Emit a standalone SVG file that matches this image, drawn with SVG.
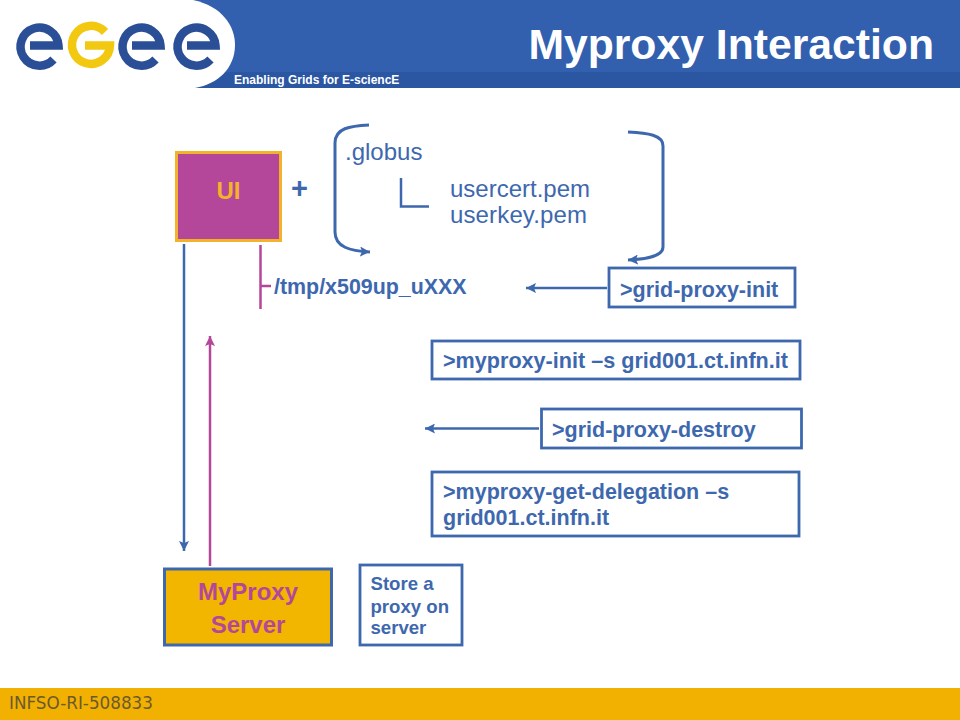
<svg xmlns="http://www.w3.org/2000/svg" width="960" height="720" viewBox="0 0 960 720">
<style>
text{font-family:"Liberation Sans",Arial,sans-serif}
.b{fill:#3E68AE}
.bold{font-weight:700}
.box{fill:#fff;stroke:#3E68AE;stroke-width:2.800}
.ln{fill:none;stroke:#3E68AE;stroke-width:2.500}
.br{fill:none;stroke:#3E68AE;stroke-width:3}
.mg{fill:none;stroke:#B5479B;stroke-width:2.500}
.logo{fill:none;stroke-width:8.500}
</style>
<defs>
<marker id="ab" markerUnits="userSpaceOnUse" markerWidth="12" markerHeight="10" refX="10" refY="5" orient="auto"><path d="M0 0L10 5L0 10L2 5Z" fill="#3E68AE"/></marker>
<marker id="am" markerUnits="userSpaceOnUse" markerWidth="12" markerHeight="10" refX="10" refY="5" orient="auto"><path d="M0 0L10 5L0 10L2 5Z" fill="#B5479B"/></marker>
</defs>
<rect width="960" height="720" fill="#fff"/>
<g id="header">
<rect width="960" height="88" fill="#325FAE"/>
<rect y="72" width="960" height="16" fill="#2B56A2"/>
<path d="M0 0H193C222 6 235 26 235 45C235 68 218 84 195 88H0Z" fill="#fff"/>
<g class="logo">
<path d="M30 45.500H58.500A19 19 0 1 0 53.500 59.500" stroke="#2B4F97"/>
<path d="M105 32A19 19 0 1 0 110 45.500H85" stroke="#F2C811"/>
<path d="M132 45.500H160.500A19 19 0 1 0 155.500 59.500" stroke="#2B4F97"/>
<path d="M187 45.500H215.500A19 19 0 1 0 210.500 59.500" stroke="#2B4F97"/>
</g>
<text x="234" y="84" font-size="12" font-weight="700" fill="#fff">Enabling Grids for E-sciencE</text>
<text x="934" y="59" font-size="42.700" font-weight="700" fill="#fff" text-anchor="end">Myproxy Interaction</text>
</g>
<g id="footer">
<rect y="688" width="960" height="32" fill="#F2B000"/>
<text x="9" y="709" font-size="16.800" fill="#6B5A30" style="font-family:'DejaVu Sans',sans-serif">INFSO-RI-508833</text>
</g>
<g id="connectors">
<path class="ln" d="M184 244V551" marker-end="url(#ab)"/>
<path class="mg" d="M210 566V336" marker-end="url(#am)"/>
<path class="mg" d="M260.500 245V309M260.500 286H271"/>
<path class="br" d="M369 125C350 126 335 128 335 143V232C335 247 350 251 370 252" marker-end="url(#ab)"/>
<path class="br" d="M628 132C648 133 663 135 663 146V247C663 256 648 259 628 260" marker-end="url(#ab)"/>
<path class="ln" d="M401 178V206.500H429"/>
<path class="ln" d="M607 288H526" marker-end="url(#ab)"/>
<path class="ln" d="M539 428.500H425" marker-end="url(#ab)"/>
</g>
<g id="ui">
<rect x="176.500" y="152.500" width="104" height="88" fill="#B5479B" stroke="#F2B32A" stroke-width="3"/>
<text x="228.500" y="199" font-size="24" font-weight="700" fill="#F2B32A" text-anchor="middle">UI</text>
</g>
<g id="plus"><text x="299.500" y="198" font-size="29" font-weight="700" class="b" text-anchor="middle">+</text></g>
<g id="globus">
<text x="345" y="160" font-size="24" class="b">.globus</text>
<text x="450" y="197" font-size="24" class="b" textLength="140">usercert.pem</text>
<text x="450" y="223" font-size="24" class="b" textLength="137">userkey.pem</text>
</g>
<g id="tmp"><text x="274" y="293.500" font-size="21.400" class="b bold">/tmp/x509up_uXXX</text></g>
<g id="grid-proxy-init">
<rect class="box" x="609" y="268" width="186" height="39"/>
<text x="620" y="297" font-size="21.500" class="b bold">&gt;grid-proxy-init</text>
</g>
<g id="myproxy-init">
<rect class="box" x="432" y="341" width="368" height="38"/>
<text x="443" y="368" font-size="21.600" class="b bold">&gt;myproxy-init –s grid001.ct.infn.it</text>
</g>
<g id="grid-proxy-destroy">
<rect class="box" x="541.500" y="409" width="260" height="39"/>
<text x="552" y="437" font-size="21.500" class="b bold">&gt;grid-proxy-destroy</text>
</g>
<g id="myproxy-get">
<rect class="box" x="432" y="472" width="367" height="64"/>
<text x="443" y="499" font-size="21.500" class="b bold">&gt;myproxy-get-delegation –s</text>
<text x="443" y="525" font-size="21.500" class="b bold">grid001.ct.infn.it</text>
</g>
<g id="myproxy-server">
<rect x="164.500" y="569" width="167" height="76" fill="#F2B600" stroke="#3E68AE" stroke-width="3"/>
<g font-size="24" font-weight="700" fill="#B5479B" text-anchor="middle">
<text x="248" y="600">MyProxy</text>
<text x="248" y="633">Server</text>
</g>
</g>
<g id="store">
<rect class="box" x="360" y="565" width="102" height="80"/>
<g font-size="18.600" class="b bold">
<text x="370.500" y="590">Store a</text>
<text x="370.500" y="613">proxy on</text>
<text x="370.500" y="634">server</text>
</g>
</g>
</svg>
